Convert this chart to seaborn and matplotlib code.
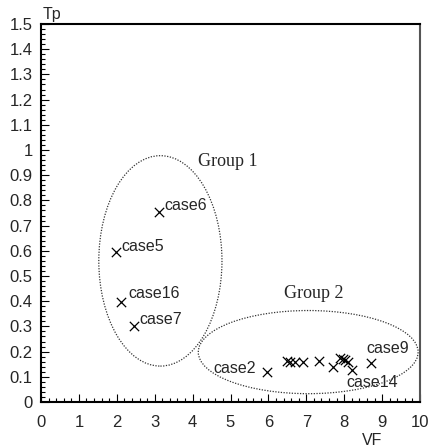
import matplotlib
matplotlib.use("Agg")
import matplotlib.pyplot as plt
from matplotlib.patches import Ellipse
from matplotlib.ticker import MultipleLocator
import seaborn as sns
import pandas as pd

# ---- data ----
vf = [3.12, 1.97, 2.11, 2.45, 5.96, 6.48, 6.57, 6.70, 6.92, 7.34, 7.70, 7.89, 7.96, 8.02, 8.11, 8.21, 8.72]
tp = [0.754, 0.596, 0.398, 0.300, 0.120, 0.162, 0.160, 0.157, 0.157, 0.164, 0.140, 0.175, 0.169, 0.167, 0.160, 0.127, 0.156]
case_names = ["case6", "case5", "case16", "case7", "case2", "", "", "", "", "", "", "", "", "", "", "case14", "case9"]
x_ticks = [0, 1, 2, 3, 4, 5, 6, 7, 8, 9, 10]
y_ticks = [0, 0.1, 0.2, 0.3, 0.4, 0.5, 0.6, 0.7, 0.8, 0.9, 1.0, 1.1, 1.2, 1.3, 1.4, 1.5]
y_tick_labels = ["0", "0.1", "0.2", "0.3", "0.4", "0.5", "0.6", "0.7", "0.8", "0.9",
                 "1", "1.1", "1.2", "1.3", "1.4", "1.5"]
group_names = ["Group 1", "Group 2"]
group_centers_x = [3.15, 7.05]
group_centers_y = [0.56, 0.198]
group_widths = [3.25, 5.8]
group_heights = [0.835, 0.33]
group_label_x = [4.93, 7.2]
group_label_y = [0.956, 0.43]

df = pd.DataFrame({"VF": vf, "Tp": tp, "name": case_names})

# label offsets in points (style)
label_offsets = {
    "case6": (4, 5, "left"),
    "case5": (4, 4, "left"),
    "case16": (5, 6, "left"),
    "case7": (4, 5, "left"),
    "case2": (-8, 2, "right"),
    "case9": (-4, 10, "left"),
    "case14": (-4, -9, "left"),
}

sns.set_style("white")
plt.rcParams["font.family"] = ["Liberation Sans", "DejaVu Sans"]

fig = plt.figure(figsize=(4.29, 4.48), dpi=100)
ax = fig.add_axes([41 / 429, (448 - 402) / 448, 379 / 429, 378 / 448])

sns.scatterplot(data=df, x="VF", y="Tp", marker="x", color="black", s=45,
                linewidth=0.9, ax=ax, legend=False, zorder=3)

for i in range(len(group_names)):
    ax.add_patch(Ellipse((group_centers_x[i], group_centers_y[i]), group_widths[i], group_heights[i],
                         fill=False, linestyle=(0, (1, 1.2)), linewidth=0.9, edgecolor="#333333"))
    ax.text(group_label_x[i], group_label_y[i], group_names[i], family="Liberation Serif",
            fontsize=13, ha="center", va="center")

for x, y, n in zip(vf, tp, case_names):
    if n:
        dx, dy, ha = label_offsets[n]
        ax.annotate(n, (x, y), xytext=(dx, dy), textcoords="offset points",
                    ha=ha, va="center", fontsize=11.5)

ax.set_xlim(0, 10)
ax.set_ylim(0, 1.5)
ax.set_xticks(x_ticks)
ax.set_xticklabels([str(t) for t in x_ticks])
ax.set_yticks(y_ticks)
ax.set_yticklabels(y_tick_labels)
ax.xaxis.set_minor_locator(MultipleLocator(0.2))
ax.yaxis.set_minor_locator(MultipleLocator(0.02))
ax.tick_params(which="both", direction="in", left=True, bottom=True, top=False, right=False,
               labelsize=12, width=0.8, color="black")
ax.tick_params(axis="y", which="major", length=6, pad=6)
ax.tick_params(axis="x", which="major", length=6, pad=9)
ax.tick_params(which="minor", length=3)
ax.set_xlabel("")
ax.set_ylabel("")

for side in ["left", "bottom", "top"]:
    ax.spines[side].set_color("black")
    ax.spines[side].set_linewidth(1.5)
ax.spines["right"].set_color("#555555")
ax.spines["right"].set_linewidth(1.5)

ax.text(0.005, 1.005, "Tp", transform=ax.transAxes, fontsize=11.5, ha="left", va="bottom")
ax.text(0.873, -0.103, "VF", transform=ax.transAxes, fontsize=11.5, ha="center", va="center")

fig.savefig("out.png", dpi=100)
